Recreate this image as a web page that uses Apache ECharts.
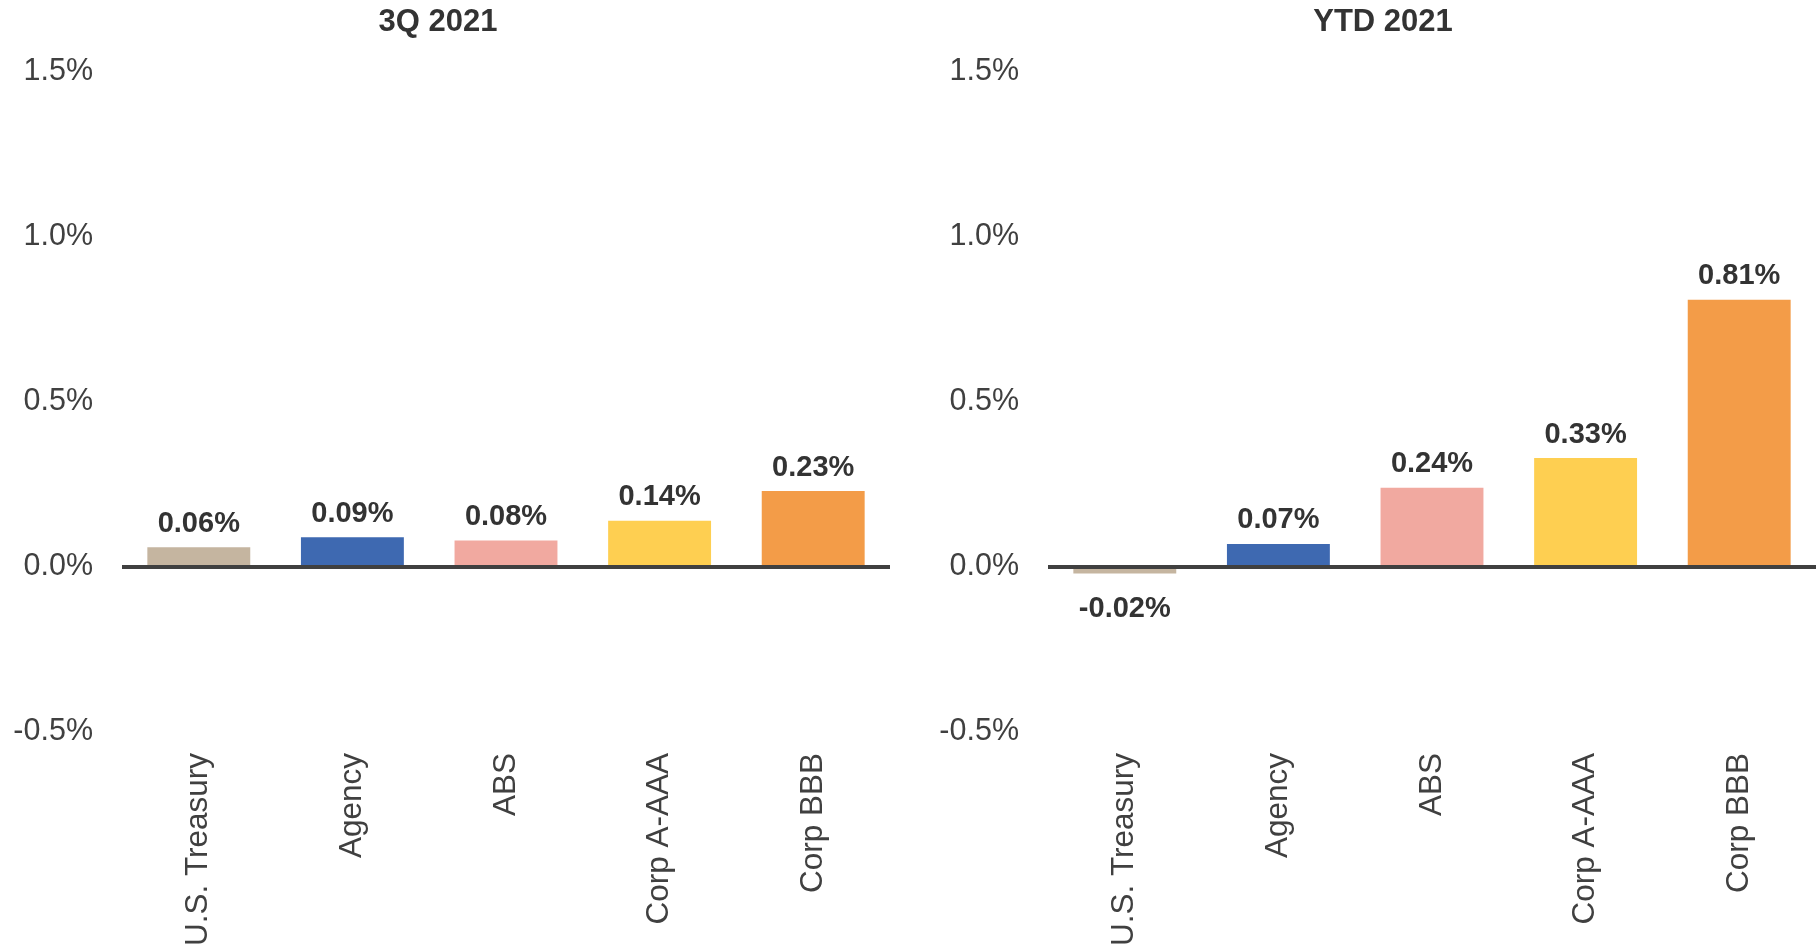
<!DOCTYPE html>
<html>
<head>
<meta charset="utf-8">
<title>Fixed income returns</title>
<script src="https://cdn.jsdelivr.net/npm/echarts@6/dist/echarts.min.js"></script>
<style>
  html, body { margin: 0; padding: 0; background: #fff; }
  #chart { width: 1818px; height: 952px; }
</style>
</head>
<body>
<div id="chart"></div>
<script>
// categories and values (percent)
var categories = ['U.S. Treasury', 'Agency', 'ABS', 'Corp A-AAA', 'Corp BBB'];
var q3Values = [0.06, 0.09, 0.08, 0.14, 0.23];
var ytdValues = [-0.02, 0.07, 0.24, 0.33, 0.81];
var panelTitles = ['3Q 2021', 'YTD 2021'];
var barColors = ['#C5B5A0', '#3E69B1', '#F1A9A0', '#FECF51', '#F39C48'];

var font = 'Liberation Sans, Arial, sans-serif';
var textColor = '#404040';

var chart = echarts.init(document.getElementById('chart'));

function makeSeries(values, idx) {
  return {
    type: 'bar',
    xAxisIndex: idx,
    yAxisIndex: idx,
    barWidth: '67%',
    data: values.map(function (v) {
      return {
        value: v,
        label: { position: v < 0 ? 'bottom' : 'top', distance: v < 0 ? 21 : 9 }
      };
    }),
    itemStyle: {
      color: function (p) { return barColors[p.dataIndex]; }
    },
    label: {
      show: true,
      fontFamily: font,
      fontSize: 29,
      fontWeight: 'bold',
      color: '#333',
      formatter: function (p) { return p.value.toFixed(2) + '%'; }
    },
    // zero line
    markLine: {
      silent: true,
      symbol: ['none', 'none'],
      label: { show: false },
      lineStyle: { color: '#404040', width: 4, type: 'solid' },
      data: [{ yAxis: 0 }]
    }
  };
}

function makeXAxis(idx) {
  return {
    type: 'category',
    gridIndex: idx,
    data: categories,
    axisLine: { show: false, onZero: false },
    axisTick: { show: false },
    axisLabel: {
      rotate: 90,
      margin: 21,
      fontFamily: font,
      fontSize: 31.5,
      color: textColor
    }
  };
}

function makeYAxis(idx) {
  return {
    type: 'value',
    gridIndex: idx,
    min: -0.5,
    max: 1.5,
    interval: 0.5,
    splitLine: { show: false },
    axisLine: { show: false },
    axisTick: { show: false },
    axisLabel: {
      margin: 29,
      padding: [8, 0, 0, 0],
      fontFamily: font,
      fontSize: 30.5,
      color: textColor,
      formatter: function (v) { return v.toFixed(1) + '%'; }
    }
  };
}

var option = {
  animation: false,
  title: [
    { text: panelTitles[0], left: 438, top: 7, textAlign: 'center', padding: 0,
      textStyle: { fontFamily: font, fontSize: 31, fontWeight: 'bold', color: '#333' } },
    { text: panelTitles[1], left: 1383, top: 7, textAlign: 'center', padding: 0,
      textStyle: { fontFamily: font, fontSize: 31, fontWeight: 'bold', color: '#333' } }
  ],
  grid: [
    { left: 122, width: 768, top: 72, height: 660, containLabel: false, outerBoundsMode: 'none' },
    { left: 1048, width: 768, top: 72, height: 660, containLabel: false, outerBoundsMode: 'none' }
  ],
  xAxis: [makeXAxis(0), makeXAxis(1)],
  yAxis: [makeYAxis(0), makeYAxis(1)],
  series: [makeSeries(q3Values, 0), makeSeries(ytdValues, 1)]
};

chart.setOption(option);
window.addEventListener('resize', function () { chart.resize(); });
</script>
</body>
</html>
